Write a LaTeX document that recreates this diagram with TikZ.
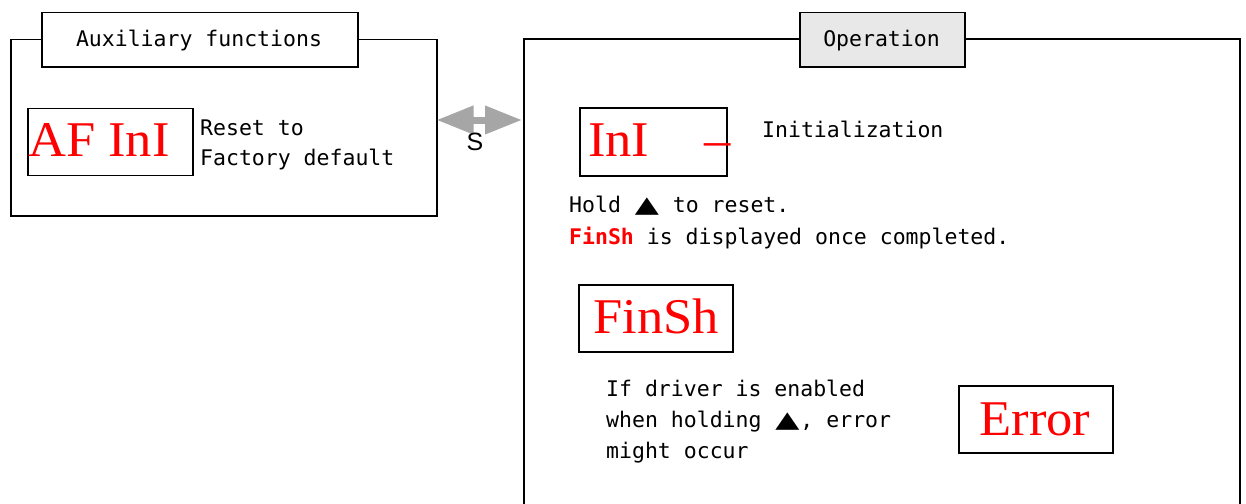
\documentclass[tikz,border=0pt]{standalone}
\usepackage{fontspec}
\usepackage{graphicx}
\setmainfont{Liberation Serif}
\newfontfamily\dispfont[FakeStretch=1.05]{Liberation Serif}
\newfontfamily\monofont{DejaVu Sans Mono}
\newfontfamily\symfont{DejaVu Sans}
\newfontfamily\arialfont{Liberation Sans}
\usetikzlibrary{arrows.meta}
\definecolor{arrowgray}{HTML}{A6A6A6}
\definecolor{titlegray}{HTML}{E8E8E8}
\newcommand{\uptri}{\makebox[26pt]{\scalebox{1.65}[1.2]{\symfont\fontsize{19}{19}\selectfont ▲}}}
\begin{document}
\begin{tikzpicture}[x=1pt,y=-1pt,
  frameline/.style={draw=black,line width=1.5pt},
  boxnode/.style={draw=black,line width=1.5pt,inner sep=0pt,anchor=north west},
  disp/.style={text=red,font=\dispfont\fontsize{50}{50}\selectfont,inner sep=0pt},
  body/.style={font=\monofont\fontsize{21.5}{31.5}\selectfont,inner sep=0pt,anchor=base west},
  dblarrow/.style={draw=arrowgray,line width=7pt,
    {Triangle[length=37pt,width=27pt]}-{Triangle[length=37pt,width=27pt]}},
]
\useasboundingbox (0,0) rectangle (1246,503);

% left frame
\node[boxnode,minimum width=426pt,minimum height=176pt] (auxframe) at (10,39) {};
\node[boxnode,fill=white,minimum width=316pt,minimum height=54pt] (auxtitlebox) at (41,12) {};
\node[body,anchor=base] (auxtitle) at (199,46.5) {Auxiliary functions};

\node[boxnode,minimum width=165pt,minimum height=67pt] (afbox) at (27,107.5) {};
\node[disp,anchor=base west] (aftext) at (28,156.7) {AF InI};
\node[body] (reset1) at (200,135) {Reset to};
\node[body] (reset2) at (200,165.5) {Factory default};

% right frame
\coordinate (rbl) at (524,504);
\coordinate (rtl) at (524,39);
\coordinate (rtr) at (1240,39);
\coordinate (rbr) at (1240,504);
\draw[frameline] (rbl) -- (rtl) -- (rtr) -- (rbr);
\node[boxnode,fill=titlegray,minimum width=165pt,minimum height=54pt] (optitlebox) at (799,12) {};
\node[body,anchor=base] (optitle) at (881.5,46.5) {Operation};

% arrow
\coordinate (arrowL) at (436.5,120);
\coordinate (arrowR) at (522,120);
\draw[dblarrow] (arrowL) -- (arrowR);
\node[font=\arialfont\fontsize{25}{25}\selectfont,inner sep=0pt,anchor=base] (slabel) at (475,150) {S};

% initialization
\node[boxnode,minimum width=147pt,minimum height=68pt] (inibox) at (579,107) {};
\node[disp,anchor=base west] (initext) at (588,156) {InI\hspace{55pt}–};
\node[body] (initlabel) at (762,137) {Initialization};

\node[body] (hold) at (569,212.5) {Hold \uptri{} to reset.};
\node[body] (finline) at (569,244) {\textcolor{red}{\bfseries FinSh} is displayed once completed.};

% FinSh
\node[boxnode,minimum width=154pt,minimum height=67pt] (finbox) at (578,284) {};
\node[disp,anchor=base] (fintext) at (656,333.3) {FinSh};

% driver note
\node[body] (drv1) at (606,396) {If driver is enabled};
\node[body] (drv2) at (606,427.5) {when holding \uptri{}, error};
\node[body] (drv3) at (606,458.5) {might occur};

% Error
\node[boxnode,minimum width=154pt,minimum height=67pt] (errbox) at (958,385) {};
\node[disp,anchor=base] (errtext) at (1035,435.7) {Error};
\end{tikzpicture}
\end{document}
